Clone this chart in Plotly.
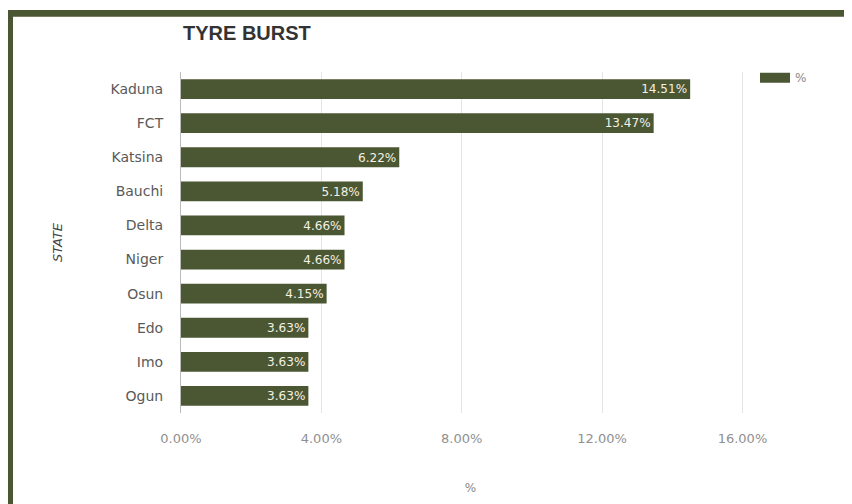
import plotly.graph_objects as go

states = ["Kaduna", "FCT", "Katsina", "Bauchi", "Delta", "Niger", "Osun", "Edo", "Imo", "Ogun"]
values = [14.51, 13.47, 6.22, 5.18, 4.66, 4.66, 4.15, 3.63, 3.63, 3.63]
tick_vals = [0, 4, 8, 12, 16]
tick_text = ["0.00%", "4.00%", "8.00%", "12.00%", "16.00%"]

BAR = "#4b5733"
FONT = "DejaVu Sans, Liberation Sans, sans-serif"
TFONT = "Liberation Sans, Arial, sans-serif"

OFF = 8  # page body margin
fig = go.Figure()
fig.add_trace(go.Bar(
    x=values, y=states, orientation="h", name="%", showlegend=False,
    marker=dict(color=BAR, line=dict(width=0)),
    texttemplate="%{x:.2f}%", textposition="inside", insidetextanchor="end",
    textfont=dict(color="#f3f1e4", size=14, family=FONT),
))
# legend entry drawn as a wide swatch
fig.add_trace(go.Scatter(
    x=[None], y=[None], mode="lines", name="%",
    line=dict(color=BAR, width=12), showlegend=True, hoverinfo="skip",
))

W, H = 852 - OFF, 504 - OFF
L, R, T, B = 181 - OFF, 92, 72 - OFF, 86
pw = W - L - R
ph = H - T - B

def px(x):
    return (x - OFF - L) / pw

def py(y):
    return (H - B - (y - OFF)) / ph

fig.update_layout(
    width=W, height=H,
    margin=dict(l=L, r=R, t=T, b=B),
    paper_bgcolor="white", plot_bgcolor="white",
    font=dict(family=FONT, color="#555"),
    title=dict(text="<b>TYRE BURST</b>", x=px(183), xanchor="left", xref="paper",
               y=1 - (33 - OFF) / H, yanchor="middle", font=dict(size=20, color="#333", family=TFONT)),
    bargap=0.42,
    showlegend=True,
    legend=dict(x=px(755), y=py(63), xanchor="left", yanchor="top",
                font=dict(size=12, color="#888"), bgcolor="rgba(0,0,0,0)"),
    xaxis=dict(range=[0, 16.5], tickvals=tick_vals, ticktext=tick_text,
               showgrid=True, gridcolor="#e4e4e4", gridwidth=1, zeroline=False,
               tickfont=dict(size=13, color="#909090"), ticklabelstandoff=16,
               title=dict(text="%", font=dict(size=12, color="#888"), standoff=38)),
    yaxis=dict(autorange="reversed", showgrid=False, showline=True, linecolor="#bbb",
               tickfont=dict(size=14, color="#5a5a5a"), ticklabelstandoff=14,
               title=dict(text="<i>STATE</i>", font=dict(size=13, color="#444"), standoff=44)),
    shapes=[
        dict(type="rect", xref="paper", yref="paper", x0=px(7), x1=px(13), y0=py(504 + 20), y1=py(9),
             fillcolor=BAR, line=dict(width=0), layer="above"),
        dict(type="rect", xref="paper", yref="paper", x0=px(7), x1=px(852 + 20), y0=py(16), y1=py(9),
             fillcolor=BAR, line=dict(width=0), layer="above"),
    ],
)

fig.write_html("out.html")
